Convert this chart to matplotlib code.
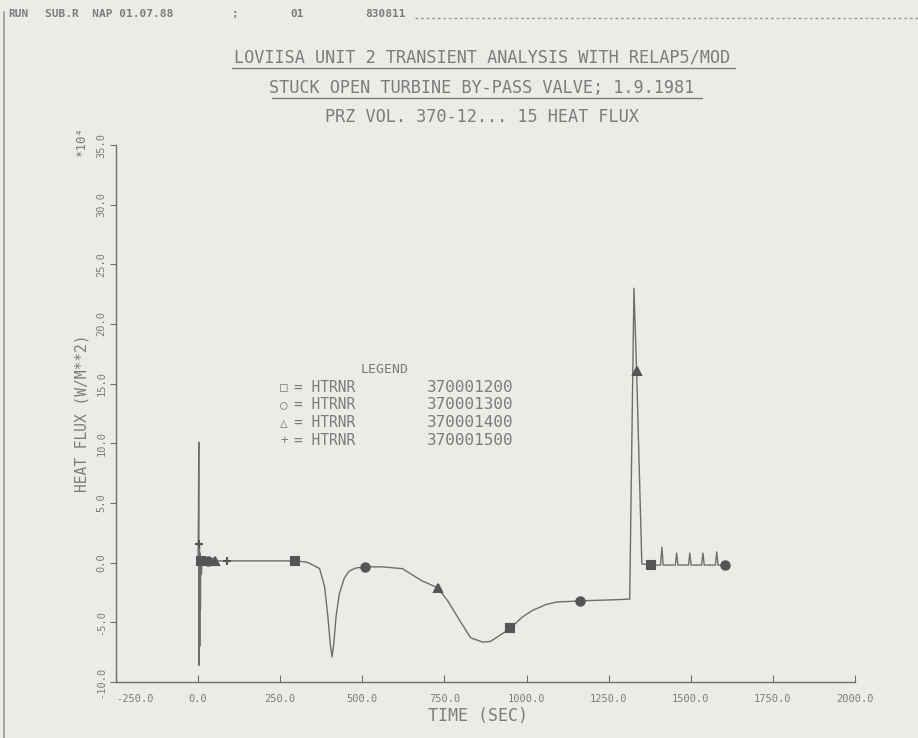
import matplotlib
matplotlib.use("Agg")
import matplotlib.pyplot as plt
from matplotlib.lines import Line2D

# Heat flux trace of the pressurizer heat structures (all four overlap)
time_s = [0, 1, 2, 3, 4, 5, 6, 7, 8, 10, 12, 20, 50, 88, 200, 296, 330, 350, 370,
          385, 395, 403, 408, 413, 420, 430, 445, 460, 480, 509, 560, 622, 680,
          729, 760, 800, 830, 866, 890, 918, 951, 985, 1018, 1060, 1091, 1130,
          1162, 1220, 1280, 1314, 1318, 1327, 1335, 1351, 1378, 1408, 1412, 1416,
          1453, 1457, 1461, 1493, 1497, 1501, 1533, 1537, 1541, 1575, 1579, 1583,
          1604, 1613]
flux = [0.0, 4.0, 10.1, -8.6, 1.6, -7.0, 0.8, -4.0, 0.3, -1.0, 0.2, 0.1, 0.15,
        0.15, 0.15, 0.15, 0.05, -0.2, -0.5, -2.0, -4.5, -7.0, -7.9, -6.8, -4.5,
        -2.6, -1.3, -0.7, -0.45, -0.35, -0.35, -0.5, -1.5, -2.1, -3.2, -5.0,
        -6.3, -6.65, -6.6, -6.1, -5.5, -4.6, -4.0, -3.5, -3.3, -3.25, -3.2,
        -3.15, -3.1, -3.05, 5.0, 23.0, 16.1, -0.1, -0.2, -0.2, 1.3, -0.2,
        -0.2, 0.8, -0.2, -0.2, 0.8, -0.2, -0.2, 0.8, -0.2, -0.2, 0.9, -0.2,
        -0.2, -0.25]

# Plot symbols of the individual volumes
series_names = ["370001200", "370001300", "370001400", "370001500"]
series_symbols = ["s", "o", "^", "+"]
legend_glyphs = ["\u25a1", "\u25cb", "\u25b3", "+"]
marker_t = [[10, 296, 951, 1378],
            [30, 509, 1162, 1604],
            [50, 729, 1335],
            [4, 88]]
marker_flux = [[0.1, 0.15, -5.5, -0.2],
               [0.1, -0.35, -3.2, -0.2],
               [0.15, -2.1, 16.1],
               [1.6, 0.15]]

x_ticks = [-250, 0, 250, 500, 750, 1000, 1250, 1500, 1750, 2000]
y_ticks = [-10, -5, 0, 5, 10, 15, 20, 25, 30, 35]

W, H = 918, 738
BG = "#ebebe7"
INK = "#6e6e6e"
TXT = "#7c7c7c"
MONO = ["DejaVu Sans Mono", "DejaVu Sans"]

fig = plt.figure(figsize=(W / 100, H / 100), dpi=100, facecolor=BG)


def px(x, y):
    return x / W, 1 - y / H


def ftext(x, y, s, size=12.5, **kw):
    kw.setdefault("color", TXT)
    kw.setdefault("ha", "center")
    kw.setdefault("va", "center")
    fig.text(*px(x, y), s, fontsize=size, family=MONO, **kw)


# axes frame placement
left, right, top, bottom = 116, 855, 145, 682
ax = fig.add_axes([left / W, 1 - bottom / H, (right - left) / W, (bottom - top) / H])
ax.set_facecolor(BG)
ax.set_xlim(-250, 2000)
ax.set_ylim(-10, 35)
for side in ("top", "right"):
    ax.spines[side].set_visible(False)
for side in ("left", "bottom"):
    ax.spines[side].set_color(INK)
    ax.spines[side].set_linewidth(1.0)

ax.set_xticks(x_ticks)
ax.set_yticks(y_ticks)
ax.set_xticklabels([f"{v:.1f}" for v in x_ticks])
ax.set_yticklabels([f"{v:.1f}" for v in y_ticks], rotation=90, va="center")
ax.tick_params(axis="x", direction="in", length=5, color=INK, labelsize=7.5,
               labelcolor=TXT, pad=9)
ax.tick_params(axis="y", direction="out", length=4, color=INK, labelsize=7.5,
               labelcolor=TXT, pad=3)
for lab in ax.get_xticklabels() + ax.get_yticklabels():
    lab.set_family(MONO)
ax.get_xticklabels()[0].set_horizontalalignment("left")

ax.plot(time_s, flux, color=INK, lw=1.0, zorder=2)
for t, f, m in zip(marker_t, marker_flux, series_symbols):
    ax.plot(t, f, ls="none", marker=m, ms=6, color="#555555",
            mec="#555555", mew=1.5, zorder=3)

# axis labels
ftext(478, 716, "TIME (SEC)", size=12)
ftext(82, 413, "HEAT FLUX (W/M**2)", size=10.5, rotation=90)
ftext(82, 142, "*10\u2074", size=9, rotation=90)

# legend block
ftext(385, 370, "LEGEND", size=9.5)
for i, (g, name) in enumerate(zip(legend_glyphs, series_names)):
    yy = 387 + i * 17.7
    ftext(284, yy, g, size=9)
    ftext(294, yy, "= HTRNR", size=10.5, ha="left")
    ftext(427, yy, name, size=11.5, ha="left")

# titles
titles = ["LOVIISA UNIT 2 TRANSIENT ANALYSIS WITH RELAP5/MOD",
          "STUCK OPEN TURBINE BY-PASS VALVE; 1.9.1981",
          "PRZ VOL. 370-12... 15 HEAT FLUX"]
title_y = [58, 88, 117]
for s, yy in zip(titles, title_y):
    ftext(482, yy, s, size=12.2)
# underlines of the first two titles
for (x0, x1, yy) in [(232, 735, 68), (272, 702, 98)]:
    fig.add_artist(Line2D([x0 / W, x1 / W], [1 - yy / H] * 2, color=TXT, lw=1.0))

# run header and page frame
ftext(8, 14, "RUN", size=8, ha="left", weight="bold")
ftext(45, 14, "SUB.R  NAP 01.07.88", size=8, ha="left", weight="bold")
ftext(232, 14, ";", size=8, ha="left", weight="bold")
ftext(290, 14, "01", size=8, ha="left", weight="bold")
ftext(365, 14, "830811", size=8, ha="left", weight="bold")
fig.add_artist(Line2D([415 / W, 1.0], [1 - 18 / H] * 2, color="#9a9a9a",
                      lw=1.0, ls=(0, (2, 2))))
fig.add_artist(Line2D([4 / W, 4 / W], [1 - 12 / H, 0.0], color="#9a9a9a", lw=1.2))

fig.savefig("out.png", dpi=100, facecolor=BG)
